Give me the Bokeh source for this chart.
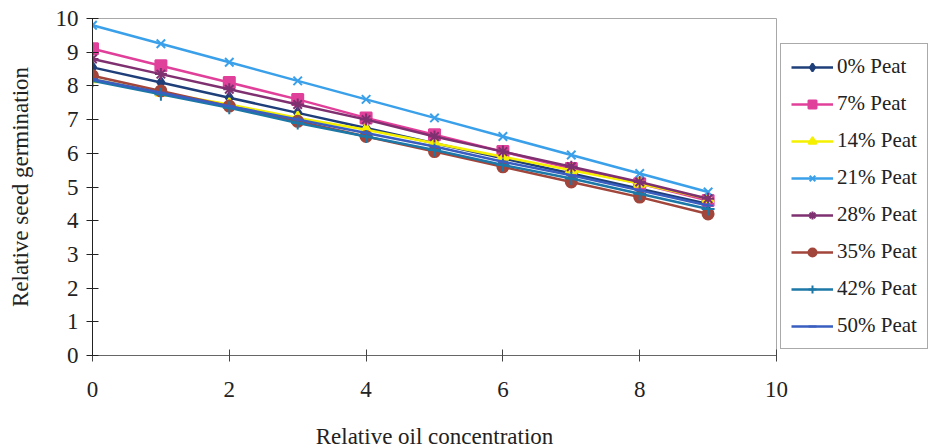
from bokeh.plotting import figure
from bokeh.models import Legend, LegendItem, FixedTicker
from bokeh.embed import file_html
from bokeh.resources import INLINE

x_vals = [0, 1, 2, 3, 4, 5, 6, 7, 8, 9]
peat_0 = [8.55, 8.1, 7.65, 7.2, 6.75, 6.3, 5.85, 5.4, 4.95, 4.5]
peat_7 = [9.1, 8.6, 8.1, 7.6, 7.05, 6.55, 6.05, 5.55, 5.1, 4.6]
peat_14 = [8.2, 7.8, 7.45, 7.05, 6.7, 6.3, 5.9, 5.5, 5.1, 4.65]
peat_21 = [9.8, 9.25, 8.7, 8.15, 7.6, 7.05, 6.5, 5.95, 5.4, 4.85]
peat_28 = [8.8, 8.35, 7.9, 7.45, 7.0, 6.5, 6.05, 5.6, 5.15, 4.65]
peat_35 = [8.3, 7.85, 7.4, 6.95, 6.5, 6.05, 5.6, 5.15, 4.7, 4.2]
peat_42 = [8.15, 7.75, 7.35, 6.9, 6.5, 6.1, 5.65, 5.25, 4.8, 4.35]
peat_50 = [8.2, 7.8, 7.4, 7.0, 6.6, 6.2, 5.75, 5.35, 4.9, 4.45]

series_names = ["0% Peat", "7% Peat", "14% Peat", "21% Peat", "28% Peat", "35% Peat", "42% Peat", "50% Peat"]
series_values = [peat_0, peat_7, peat_14, peat_21, peat_28, peat_35, peat_42, peat_50]
x_ticks = [0, 2, 4, 6, 8, 10]
y_ticks = [0, 1, 2, 3, 4, 5, 6, 7, 8, 9, 10]

colors = ["#1F3F7A", "#E0409A", "#F5F000", "#3AA0EA", "#7E3070", "#A2453A", "#1C78A6", "#3A5EC0"]
markers = ["diamond", "square", "triangle", "x", "asterisk", "circle", "cross", "dash"]
msizes = [11, 11, 11, 12, 12, 11, 13, 10]

FONT = "Liberation Serif"

p = figure(frame_width=684, frame_height=337, x_range=(0, 10), y_range=(0, 10),
           output_backend="svg", toolbar_location=None,
           min_border_left=92, min_border_right=157, min_border_top=18, min_border_bottom=92)
p.xgrid.visible = False
p.ygrid.visible = False
p.outline_line_color = "#A8A8A8"
p.outline_line_width = 1

items = []
for name, vals, c, m, s in zip(series_names, series_values, colors, markers, msizes):
    r1 = p.line(x_vals, vals, line_color=c, line_width=2.5)
    r2 = p.scatter(x_vals, vals, marker=m, size=s, fill_color=c, line_color=c, line_width=2)
    items.append(LegendItem(label=name, renderers=[r1, r2]))

legend = Legend(items=items, location=(4, 6))
legend.label_text_font = FONT
legend.label_text_font_size = "21px"
legend.label_text_color = "#222222"
legend.glyph_width = 42
legend.glyph_height = 20
legend.label_height = 20
legend.spacing = 12
legend.padding = 10
legend.margin = 0
legend.label_standoff = 4
legend.border_line_color = "#555555"
legend.border_line_width = 1
legend.background_fill_color = "white"
legend.background_fill_alpha = 1
p.add_layout(legend, "right")

for ax in (p.xaxis[0], p.yaxis[0]):
    ax.major_label_text_font = FONT
    ax.major_label_text_font_size = "23px"
    ax.major_label_text_color = "#222222"
    ax.axis_label_text_font = FONT
    ax.axis_label_text_font_size = "23px"
    ax.axis_label_text_font_style = "normal"
    ax.axis_label_text_color = "#222222"
    ax.minor_tick_line_color = None
    ax.major_tick_in = 6
    ax.major_tick_out = 6

p.xaxis.ticker = FixedTicker(ticks=x_ticks)
p.yaxis.ticker = FixedTicker(ticks=y_ticks)
p.xaxis.axis_label = "Relative oil concentration"
p.yaxis.axis_label = "Relative seed germination"
p.xaxis.major_label_standoff = 20
p.xaxis.axis_label_standoff = 24
p.yaxis.major_label_standoff = 8
p.yaxis.axis_label_standoff = 20
p.xaxis.axis_line_color = "#666666"
p.xaxis.major_tick_line_color = "#444444"
p.yaxis.axis_line_color = "#222222"
p.yaxis.major_tick_line_color = "#222222"

open("out.html", "w").write(file_html(p, INLINE))
